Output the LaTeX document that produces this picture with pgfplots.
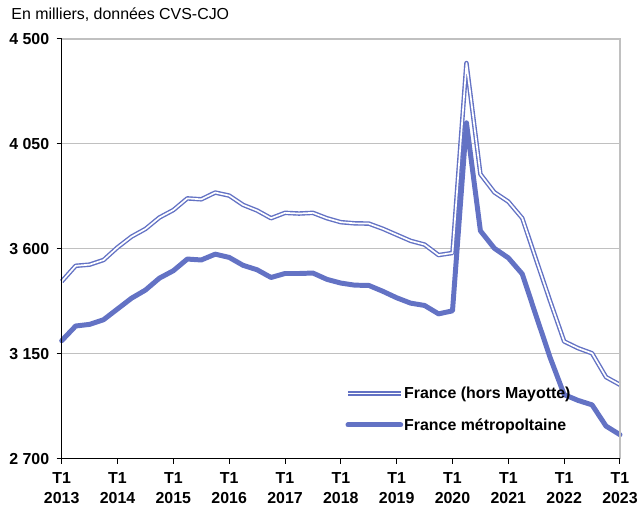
\documentclass[border=0pt]{standalone}
\usepackage{fontspec}
\setmainfont{Liberation Sans}
\usepackage{pgfplots}
\pgfplotsset{compat=1.18}
\definecolor{serieblue}{RGB}{99,114,196}
\definecolor{gridgray}{RGB}{192,192,192}

% trimestres 0 = T1 2013 ... 40 = T1 2023
\pgfplotstableread{
q  val
0  3460
1  3527
2  3532
3  3552
4  3606
5  3652
6  3685
7  3734
8  3766
9  3816
10 3812
11 3841
12 3828
13 3788
14 3764
15 3731
16 3754
17 3751
18 3754
19 3731
20 3714
21 3709
22 3708
23 3686
24 3660
25 3634
26 3618
27 3573
28 3582
29 4396
30 3920
31 3842
32 3802
33 3731
34 3552
35 3375
36 3203
37 3174
38 3152
39 3050
40 3017
}\horsmayotte

\pgfplotstableread{
q  val
0  3206
1  3269
2  3276
3  3296
4  3342
5  3388
6  3423
7  3474
8  3506
9  3556
10 3552
11 3577
12 3563
13 3529
14 3510
15 3477
16 3494
17 3494
18 3496
19 3469
20 3453
21 3444
22 3443
23 3418
24 3390
25 3367
26 3357
27 3321
28 3334
29 4140
30 3677
31 3602
32 3561
33 3492
34 3311
35 3133
36 2975
37 2950
38 2931
39 2840
40 2803
}\metro

\begin{document}
\begin{tikzpicture}
\begin{axis}[
  at={(0pt,0pt)}, anchor=south west,
  scale only axis, width=561pt, height=422pt,
  xmin=0, xmax=40, ymin=2700, ymax=4500,
  xtick={0,4,...,40},
  xticklabels={{T1\\2013},{T1\\2014},{T1\\2015},{T1\\2016},{T1\\2017},{T1\\2018},
               {T1\\2019},{T1\\2020},{T1\\2021},{T1\\2022},{T1\\2023}},
  xticklabel style={align=center, yshift=-5pt,
                    font=\fontsize{16}{20}\selectfont\bfseries},
  ytick={2700,3150,3600,4050,4500},
  yticklabels={2 700,3 150,3 600,4 050,4 500},
  yticklabel style={xshift=-4pt, font=\fontsize{16}{18}\selectfont\bfseries},
  ymajorgrids, grid style={gridgray, line width=1pt},
  axis line style={draw=none},
  tick align=outside, xtick pos=left, ytick pos=left,
  major tick length=5pt,
  tick style={black, line width=1pt},
  legend style={draw=none, fill=none, at={(0.508,0.118)}, anchor=west,
                inner sep=0pt, row sep=16.5pt,
                font=\fontsize{16}{18}\selectfont\bfseries,
                nodes={inner sep=1pt}},
  legend cell align=left,
  legend image code/.code={\draw[#1] (0pt,0pt) -- (53pt,0pt);},
  clip=false,
]
\addplot[draw=serieblue, double=white, line width=1.4pt, double distance=1.7pt,
         line join=round] table[x=q, y=val] {\horsmayotte};
\addlegendentry{France (hors Mayotte)}
\addplot[draw=serieblue, line width=5pt, line join=round, line cap=round]
         table[x=q, y=val] {\metro};
\addlegendentry{France métropoltaine}

\draw[gridgray, line width=2pt] (rel axis cs:0,1) -- (rel axis cs:1,1) -- (rel axis cs:1,0);
\draw[black, line width=1.3pt] (rel axis cs:0,1) -- (rel axis cs:0,0) -- (rel axis cs:1,0);
\end{axis}
\node[anchor=base west, font=\fontsize{16}{18}\selectfont] at (-54pt,441.7pt)
  {En milliers, données CVS-CJO};
\path[use as bounding box] (-62pt,-49pt) rectangle (579pt,461pt);
\end{tikzpicture}
\end{document}
